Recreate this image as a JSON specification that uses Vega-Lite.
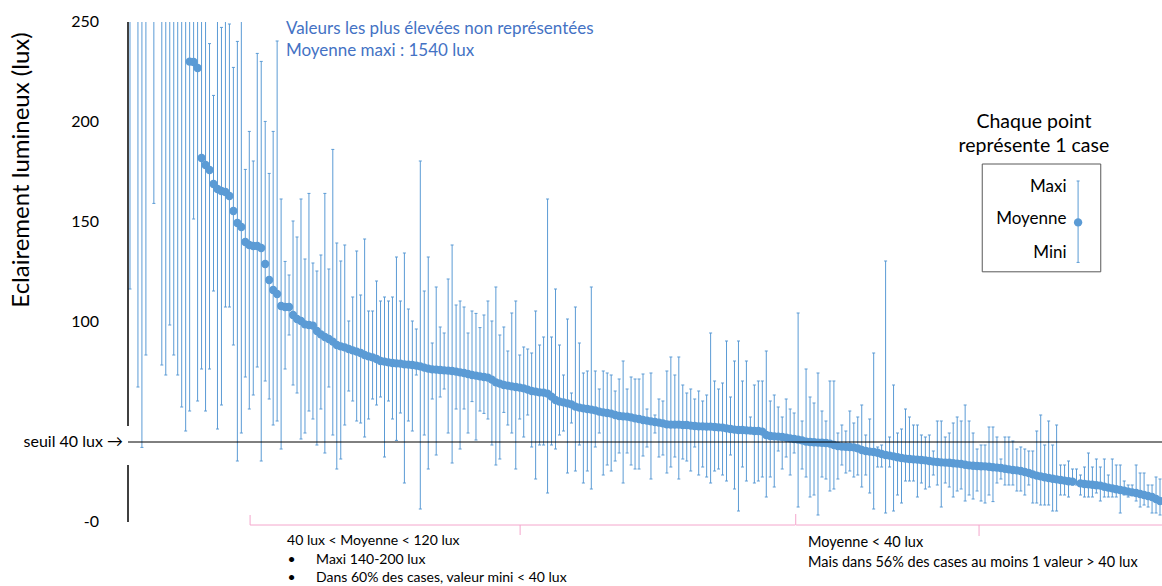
{
  "$schema": "https://vega.github.io/schema/vega-lite/v6.json",
  "width": 1034,
  "height": 500,
  "autosize": "none",
  "padding": {"left": 128, "top": 22, "right": 0, "bottom": 64},
  "background": "white",
  "config": {"view": {"stroke": null}, "font": "Lato"},
  "datasets": {
    "graduations": [
      {"lux": 250, "etiquette": "250"},
      {"lux": 200, "etiquette": "200"},
      {"lux": 150, "etiquette": "150"},
      {"lux": 100, "etiquette": "100"},
      {"lux": 0, "etiquette": "-0"}
    ],
    "cases": [
      {"rang":0,"moyenne":1540,"mini":116.5,"maxi":4000},
      {"rang":1,"moyenne":1100,"mini":300,"maxi":3000},
      {"rang":2,"moyenne":800,"mini":67.5,"maxi":2500},
      {"rang":3,"moyenne":600,"mini":37.3,"maxi":2000},
      {"rang":4,"moyenne":500,"mini":83.5,"maxi":1500},
      {"rang":5,"moyenne":450,"mini":280,"maxi":1200},
      {"rang":6,"moyenne":420,"mini":159.3,"maxi":1100},
      {"rang":7,"moyenne":380,"mini":270,"maxi":900},
      {"rang":8,"moyenne":350,"mini":78.5,"maxi":800},
      {"rang":9,"moyenne":330,"mini":73.5,"maxi":750},
      {"rang":10,"moyenne":310,"mini":98.5,"maxi":700},
      {"rang":11,"moyenne":295,"mini":83.5,"maxi":650},
      {"rang":12,"moyenne":280,"mini":73.5,"maxi":600},
      {"rang":13,"moyenne":265,"mini":57.5,"maxi":550},
      {"rang":14,"moyenne":255,"mini":45.5,"maxi":500},
      {"rang":15,"moyenne":230.2,"mini":55.5,"maxi":420},
      {"rang":16,"moyenne":230,"mini":151.5,"maxi":400},
      {"rang":17,"moyenne":227,"mini":60.5,"maxi":380},
      {"rang":18,"moyenne":182,"mini":76.5,"maxi":350},
      {"rang":19,"moyenne":178.5,"mini":55.5,"maxi":330},
      {"rang":20,"moyenne":176,"mini":76.5,"maxi":239.2},
      {"rang":21,"moyenne":169,"mini":115.5,"maxi":213.3},
      {"rang":22,"moyenne":166.5,"mini":46.5,"maxi":300},
      {"rang":23,"moyenne":165.5,"mini":58.5,"maxi":247.3},
      {"rang":24,"moyenne":165,"mini":107.5,"maxi":280},
      {"rang":25,"moyenne":163,"mini":107.5,"maxi":249},
      {"rang":26,"moyenne":155.5,"mini":88.5,"maxi":227.3},
      {"rang":27,"moyenne":149.5,"mini":30.5,"maxi":240.3},
      {"rang":28,"moyenne":147.5,"mini":44.5,"maxi":290},
      {"rang":29,"moyenne":140,"mini":72.5,"maxi":176.3},
      {"rang":30,"moyenne":138.5,"mini":56.5,"maxi":195.3},
      {"rang":31,"moyenne":138,"mini":63.5,"maxi":180.5},
      {"rang":32,"moyenne":138,"mini":77.5,"maxi":234.3},
      {"rang":33,"moyenne":137,"mini":30.5,"maxi":230.3},
      {"rang":34,"moyenne":129,"mini":70.5,"maxi":200.3},
      {"rang":35,"moyenne":121,"mini":61.5,"maxi":174.3},
      {"rang":36,"moyenne":116,"mini":48.5,"maxi":195.3},
      {"rang":37,"moyenne":114,"mini":50.5,"maxi":240.5},
      {"rang":38,"moyenne":108,"mini":36.5,"maxi":161.5},
      {"rang":39,"moyenne":107.5,"mini":76.5,"maxi":130.3},
      {"rang":40,"moyenne":107.5,"mini":93.5,"maxi":123.5},
      {"rang":41,"moyenne":103.5,"mini":68.5,"maxi":150.5},
      {"rang":42,"moyenne":101.5,"mini":64.5,"maxi":142.5},
      {"rang":43,"moyenne":100.5,"mini":41.5,"maxi":161.5},
      {"rang":44,"moyenne":98.8,"mini":44.5,"maxi":131.5},
      {"rang":45,"moyenne":98.5,"mini":55.5,"maxi":164.3},
      {"rang":46,"moyenne":98.2,"mini":51.5,"maxi":129.5},
      {"rang":47,"moyenne":95.5,"mini":38.5,"maxi":125.5},
      {"rang":48,"moyenne":93.8,"mini":56.5,"maxi":133.5},
      {"rang":49,"moyenne":92.5,"mini":34.5,"maxi":164.3},
      {"rang":50,"moyenne":91.5,"mini":67.5,"maxi":126.5},
      {"rang":51,"moyenne":90.2,"mini":43.5,"maxi":186.3},
      {"rang":52,"moyenne":88.5,"mini":26.5,"maxi":139.5},
      {"rang":53,"moyenne":87.8,"mini":31.5,"maxi":130.5},
      {"rang":54,"moyenne":87.3,"mini":48.5,"maxi":138.5},
      {"rang":55,"moyenne":86.5,"mini":65.5,"maxi":100.5},
      {"rang":56,"moyenne":85.8,"mini":60.5,"maxi":112.5},
      {"rang":57,"moyenne":85.2,"mini":50.5,"maxi":135.5},
      {"rang":58,"moyenne":84.5,"mini":49.5,"maxi":113.5},
      {"rang":59,"moyenne":83.5,"mini":42.5,"maxi":141.5},
      {"rang":60,"moyenne":82.8,"mini":51.5,"maxi":105.5},
      {"rang":61,"moyenne":82.3,"mini":61.5,"maxi":105.5},
      {"rang":62,"moyenne":81.5,"mini":58.5,"maxi":120.5},
      {"rang":63,"moyenne":80.5,"mini":62.5,"maxi":110.5},
      {"rang":64,"moyenne":80.2,"mini":32.5,"maxi":112.5},
      {"rang":65,"moyenne":79.8,"mini":60.5,"maxi":110.5},
      {"rang":66,"moyenne":79.5,"mini":51.5,"maxi":112.5},
      {"rang":67,"moyenne":79.3,"mini":40.8,"maxi":132.5},
      {"rang":68,"moyenne":79.2,"mini":54.5,"maxi":110.5},
      {"rang":69,"moyenne":78.8,"mini":19.5,"maxi":134.5},
      {"rang":70,"moyenne":78.7,"mini":50.5,"maxi":106.5},
      {"rang":71,"moyenne":78.5,"mini":45.5,"maxi":100.5},
      {"rang":72,"moyenne":78.2,"mini":73.5,"maxi":96.5},
      {"rang":73,"moyenne":77.8,"mini":6.5,"maxi":180.5},
      {"rang":74,"moyenne":77.2,"mini":43.5,"maxi":115.5},
      {"rang":75,"moyenne":76.7,"mini":26.5,"maxi":132.5},
      {"rang":76,"moyenne":76.3,"mini":61.5,"maxi":89.5},
      {"rang":77,"moyenne":76.2,"mini":33.5,"maxi":117.5},
      {"rang":78,"moyenne":76,"mini":62.5,"maxi":97.5},
      {"rang":79,"moyenne":75.8,"mini":66.5,"maxi":94.5},
      {"rang":80,"moyenne":75.7,"mini":44.5,"maxi":121.5},
      {"rang":81,"moyenne":75.5,"mini":29.5,"maxi":138.5},
      {"rang":82,"moyenne":75.2,"mini":56.5,"maxi":108.5},
      {"rang":83,"moyenne":74.8,"mini":36.5,"maxi":110.5},
      {"rang":84,"moyenne":74.5,"mini":56.5,"maxi":107.5},
      {"rang":85,"moyenne":74,"mini":44.5,"maxi":94.5},
      {"rang":86,"moyenne":73.5,"mini":60.2,"maxi":105.5},
      {"rang":87,"moyenne":73.2,"mini":41,"maxi":104.3},
      {"rang":88,"moyenne":72.8,"mini":55.5,"maxi":97.2},
      {"rang":89,"moyenne":72.5,"mini":54.3,"maxi":103.5},
      {"rang":90,"moyenne":72.2,"mini":51.5,"maxi":110.5},
      {"rang":91,"moyenne":71.2,"mini":38.5,"maxi":100.5},
      {"rang":92,"moyenne":69.8,"mini":28.5,"maxi":117.5},
      {"rang":93,"moyenne":69.2,"mini":31.5,"maxi":93.5},
      {"rang":94,"moyenne":68.5,"mini":54.8,"maxi":97.5},
      {"rang":95,"moyenne":68.2,"mini":48.5,"maxi":85.5},
      {"rang":96,"moyenne":67.8,"mini":44.5,"maxi":104.5},
      {"rang":97,"moyenne":67.5,"mini":26.5,"maxi":110.5},
      {"rang":98,"moyenne":67.2,"mini":51.5,"maxi":83.5},
      {"rang":99,"moyenne":66.8,"mini":42.5,"maxi":87.5},
      {"rang":100,"moyenne":66.2,"mini":53.5,"maxi":86.5},
      {"rang":101,"moyenne":65.5,"mini":37.5,"maxi":84.5},
      {"rang":102,"moyenne":65.2,"mini":21.5,"maxi":105.5},
      {"rang":103,"moyenne":64.8,"mini":38.5,"maxi":88.5},
      {"rang":104,"moyenne":64.7,"mini":38.5,"maxi":92.5},
      {"rang":105,"moyenne":64.2,"mini":14.5,"maxi":161.5},
      {"rang":106,"moyenne":62.7,"mini":38.5,"maxi":92.5},
      {"rang":107,"moyenne":61,"mini":36.5,"maxi":116.5},
      {"rang":108,"moyenne":60.2,"mini":43.5,"maxi":88.5},
      {"rang":109,"moyenne":59.8,"mini":45.5,"maxi":73.5},
      {"rang":110,"moyenne":59.3,"mini":24.5,"maxi":101.5},
      {"rang":111,"moyenne":58.8,"mini":49.5,"maxi":64.5},
      {"rang":112,"moyenne":57.7,"mini":25.5,"maxi":107.5},
      {"rang":113,"moyenne":57.2,"mini":38.5,"maxi":89.5},
      {"rang":114,"moyenne":56.8,"mini":19.5,"maxi":74.5},
      {"rang":115,"moyenne":56.5,"mini":25.5,"maxi":75.5},
      {"rang":116,"moyenne":56.2,"mini":16.5,"maxi":117.5},
      {"rang":117,"moyenne":55.8,"mini":37.5,"maxi":75.5},
      {"rang":118,"moyenne":55.2,"mini":44.5,"maxi":66.5},
      {"rang":119,"moyenne":54.8,"mini":23.5,"maxi":75.5},
      {"rang":120,"moyenne":54.5,"mini":28.5,"maxi":74.5},
      {"rang":121,"moyenne":54.2,"mini":25.5,"maxi":73.5},
      {"rang":122,"moyenne":53.5,"mini":30.5,"maxi":65.5},
      {"rang":123,"moyenne":53,"mini":34.5,"maxi":71.5},
      {"rang":124,"moyenne":52.8,"mini":19.5,"maxi":80.5},
      {"rang":125,"moyenne":52.7,"mini":34.5,"maxi":66.5},
      {"rang":126,"moyenne":52.3,"mini":28.5,"maxi":72.5},
      {"rang":127,"moyenne":51.8,"mini":26.5,"maxi":71.5},
      {"rang":128,"moyenne":51.5,"mini":26.5,"maxi":71.5},
      {"rang":129,"moyenne":51,"mini":33,"maxi":74},
      {"rang":130,"moyenne":50.7,"mini":37.5,"maxi":56.5},
      {"rang":131,"moyenne":50.3,"mini":21.5,"maxi":74.5},
      {"rang":132,"moyenne":50,"mini":44.5,"maxi":53.5},
      {"rang":133,"moyenne":49.7,"mini":32.5,"maxi":61.5},
      {"rang":134,"moyenne":49.3,"mini":33.5,"maxi":60.5},
      {"rang":135,"moyenne":48.8,"mini":24.5,"maxi":75.5},
      {"rang":136,"moyenne":48.7,"mini":27.5,"maxi":82.5},
      {"rang":137,"moyenne":48.7,"mini":32.5,"maxi":73.5},
      {"rang":138,"moyenne":48.7,"mini":21.5,"maxi":82.5},
      {"rang":139,"moyenne":48.5,"mini":31.5,"maxi":68.5},
      {"rang":140,"moyenne":48.5,"mini":30.5,"maxi":64.5},
      {"rang":141,"moyenne":48.2,"mini":25.5,"maxi":66.5},
      {"rang":142,"moyenne":48,"mini":37.5,"maxi":61.5},
      {"rang":143,"moyenne":47.8,"mini":23.5,"maxi":65.5},
      {"rang":144,"moyenne":47.8,"mini":27.5,"maxi":60.5},
      {"rang":145,"moyenne":47.7,"mini":22.5,"maxi":63.5},
      {"rang":146,"moyenne":47.7,"mini":19.5,"maxi":94.5},
      {"rang":147,"moyenne":47.5,"mini":25.5,"maxi":70.5},
      {"rang":148,"moyenne":47.3,"mini":26.5,"maxi":66.5},
      {"rang":149,"moyenne":47.2,"mini":23.5,"maxi":69.5},
      {"rang":150,"moyenne":46.8,"mini":20.5,"maxi":90.5},
      {"rang":151,"moyenne":46.5,"mini":33.5,"maxi":62.5},
      {"rang":152,"moyenne":46.2,"mini":16.5,"maxi":80.5},
      {"rang":153,"moyenne":46,"mini":5.5,"maxi":90.5},
      {"rang":154,"moyenne":46,"mini":27.5,"maxi":70.5},
      {"rang":155,"moyenne":45.8,"mini":20.5,"maxi":80.5},
      {"rang":156,"moyenne":45.7,"mini":44.5,"maxi":52.5},
      {"rang":157,"moyenne":45.5,"mini":19.5,"maxi":68.5},
      {"rang":158,"moyenne":45.5,"mini":20.5,"maxi":70.5},
      {"rang":159,"moyenne":45.2,"mini":22.5,"maxi":70.5},
      {"rang":160,"moyenne":43.5,"mini":12.5,"maxi":85.5},
      {"rang":161,"moyenne":43,"mini":22.5,"maxi":60.5},
      {"rang":162,"moyenne":42.8,"mini":17.5,"maxi":63.5},
      {"rang":163,"moyenne":42.7,"mini":35.5,"maxi":57.5},
      {"rang":164,"moyenne":42.5,"mini":26.5,"maxi":52.5},
      {"rang":165,"moyenne":42.2,"mini":32.5,"maxi":61.5},
      {"rang":166,"moyenne":41.8,"mini":23.5,"maxi":56.5},
      {"rang":167,"moyenne":41.5,"mini":34.5,"maxi":54.5},
      {"rang":168,"moyenne":41.2,"mini":7.5,"maxi":104.5},
      {"rang":169,"moyenne":40.8,"mini":26.5,"maxi":50.5},
      {"rang":170,"moyenne":40.2,"mini":22.5,"maxi":76.5},
      {"rang":171,"moyenne":40,"mini":12.5,"maxi":62.5},
      {"rang":172,"moyenne":39.9,"mini":13.5,"maxi":59.5},
      {"rang":173,"moyenne":39.7,"mini":3.5,"maxi":74.5},
      {"rang":174,"moyenne":39.6,"mini":22.5,"maxi":55.5},
      {"rang":175,"moyenne":39.5,"mini":21.5,"maxi":50.5},
      {"rang":176,"moyenne":39.2,"mini":15.5,"maxi":70.5},
      {"rang":177,"moyenne":38.5,"mini":16.5,"maxi":70.5},
      {"rang":178,"moyenne":38,"mini":21.5,"maxi":44.5},
      {"rang":179,"moyenne":37.7,"mini":28.5,"maxi":48.5},
      {"rang":180,"moyenne":37.6,"mini":24.5,"maxi":45.5},
      {"rang":181,"moyenne":37.5,"mini":25.5,"maxi":55.5},
      {"rang":182,"moyenne":37.3,"mini":22.5,"maxi":49.5},
      {"rang":183,"moyenne":36.8,"mini":23.5,"maxi":52.5},
      {"rang":184,"moyenne":36,"mini":17.5,"maxi":58.5},
      {"rang":185,"moyenne":35.5,"mini":23.5,"maxi":43.5},
      {"rang":186,"moyenne":35.2,"mini":14.5,"maxi":51.5},
      {"rang":187,"moyenne":35,"mini":6.5,"maxi":84.5},
      {"rang":188,"moyenne":34.6,"mini":27.5,"maxi":37.5},
      {"rang":189,"moyenne":34,"mini":27.5,"maxi":38.5},
      {"rang":190,"moyenne":33.5,"mini":4.5,"maxi":130.5},
      {"rang":191,"moyenne":33.2,"mini":27.5,"maxi":42.5},
      {"rang":192,"moyenne":32.8,"mini":5.5,"maxi":68.5},
      {"rang":193,"moyenne":32.4,"mini":13.5,"maxi":44.5},
      {"rang":194,"moyenne":32,"mini":9.5,"maxi":46.5},
      {"rang":195,"moyenne":31.7,"mini":20.5,"maxi":56.5},
      {"rang":196,"moyenne":31.5,"mini":20.5,"maxi":52.5},
      {"rang":197,"moyenne":31.3,"mini":20.5,"maxi":48.5},
      {"rang":198,"moyenne":31.2,"mini":12.5,"maxi":48.5},
      {"rang":199,"moyenne":31,"mini":19.5,"maxi":43.5},
      {"rang":200,"moyenne":30.8,"mini":16.5,"maxi":42.5},
      {"rang":201,"moyenne":30.5,"mini":17.5,"maxi":43.5},
      {"rang":202,"moyenne":30.2,"mini":23.5,"maxi":35.5},
      {"rang":203,"moyenne":30,"mini":18.5,"maxi":50.5},
      {"rang":204,"moyenne":29.8,"mini":7.5,"maxi":50.5},
      {"rang":205,"moyenne":29.7,"mini":19.5,"maxi":42.5},
      {"rang":206,"moyenne":29.6,"mini":17.5,"maxi":44.5},
      {"rang":207,"moyenne":29.4,"mini":12.5,"maxi":49.5},
      {"rang":208,"moyenne":29.2,"mini":15.5,"maxi":52.5},
      {"rang":209,"moyenne":29,"mini":16.5,"maxi":50.5},
      {"rang":210,"moyenne":28.6,"mini":10.5,"maxi":58.5},
      {"rang":211,"moyenne":28.3,"mini":13.5,"maxi":50.5},
      {"rang":212,"moyenne":28.1,"mini":11.5,"maxi":44.5},
      {"rang":213,"moyenne":28,"mini":15.5,"maxi":36.5},
      {"rang":214,"moyenne":27.9,"mini":10.5,"maxi":38.5},
      {"rang":215,"moyenne":27.8,"mini":9.5,"maxi":38.5},
      {"rang":216,"moyenne":27.6,"mini":13.5,"maxi":47.5},
      {"rang":217,"moyenne":27.4,"mini":10.2,"maxi":47.5},
      {"rang":218,"moyenne":27.2,"mini":19.5,"maxi":42.5},
      {"rang":219,"moyenne":27,"mini":21.5,"maxi":31.5},
      {"rang":220,"moyenne":26.6,"mini":18.5,"maxi":42.5},
      {"rang":221,"moyenne":26.3,"mini":18.5,"maxi":42.5},
      {"rang":222,"moyenne":26,"mini":18.5,"maxi":40.5},
      {"rang":223,"moyenne":25.8,"mini":15.5,"maxi":36.5},
      {"rang":224,"moyenne":25.5,"mini":15.5,"maxi":37.5},
      {"rang":225,"moyenne":25,"mini":13.5,"maxi":36.5},
      {"rang":226,"moyenne":24.5,"mini":18.5,"maxi":35.5},
      {"rang":227,"moyenne":23.8,"mini":9.5,"maxi":35.5},
      {"rang":228,"moyenne":23.2,"mini":9.5,"maxi":45.5},
      {"rang":229,"moyenne":22.8,"mini":8.5,"maxi":53.5},
      {"rang":230,"moyenne":22.4,"mini":8.5,"maxi":38.5},
      {"rang":231,"moyenne":22,"mini":8.5,"maxi":50.5},
      {"rang":232,"moyenne":21.6,"mini":5.5,"maxi":38.5},
      {"rang":233,"moyenne":21.3,"mini":5.5,"maxi":48.5},
      {"rang":234,"moyenne":21,"mini":13.5,"maxi":28.5},
      {"rang":235,"moyenne":20.7,"mini":13.5,"maxi":28.5},
      {"rang":236,"moyenne":20.4,"mini":12.5,"maxi":30.5},
      {"rang":237,"moyenne":20.2,"mini":18.5,"maxi":26.5},
      {"rang":238,"moyenne":null,"mini":18.5,"maxi":26.5},
      {"rang":239,"moyenne":19.3,"mini":13.5,"maxi":23.5},
      {"rang":240,"moyenne":19,"mini":12.5,"maxi":27.5},
      {"rang":241,"moyenne":18.8,"mini":12.5,"maxi":34.5},
      {"rang":242,"moyenne":18.6,"mini":12.5,"maxi":27.5},
      {"rang":243,"moyenne":18.4,"mini":14.5,"maxi":31.5},
      {"rang":244,"moyenne":18.2,"mini":10.5,"maxi":27.5},
      {"rang":245,"moyenne":17.6,"mini":12.5,"maxi":31.5},
      {"rang":246,"moyenne":17.2,"mini":12.5,"maxi":23.5},
      {"rang":247,"moyenne":16.8,"mini":12.5,"maxi":31.5},
      {"rang":248,"moyenne":16.4,"mini":12.5,"maxi":28.5},
      {"rang":249,"moyenne":16,"mini":4.5,"maxi":28.5},
      {"rang":250,"moyenne":15.6,"mini":13.5,"maxi":20.5},
      {"rang":251,"moyenne":15.2,"mini":12.5,"maxi":18.5},
      {"rang":252,"moyenne":14.8,"mini":13.5,"maxi":18.5},
      {"rang":253,"moyenne":14.5,"mini":10.5,"maxi":28.5},
      {"rang":254,"moyenne":14,"mini":7.5,"maxi":24.5},
      {"rang":255,"moyenne":13.5,"mini":8.5,"maxi":24.5},
      {"rang":256,"moyenne":13,"mini":7.5,"maxi":18.5},
      {"rang":257,"moyenne":12.5,"mini":4.5,"maxi":18.5},
      {"rang":258,"moyenne":11.5,"mini":4.5,"maxi":22.5},
      {"rang":259,"moyenne":10.5,"mini":3.5,"maxi":21.5}
    ]
  },
  "layer": [
    {
      "data": {"name": "cases"},
      "mark": {"type": "rule", "color": "#5B9BD5", "strokeWidth": 1, "clip": true},
      "encoding": {
        "x": {"field": "rang", "type": "quantitative", "scale": {"domain": [-0.5, 259.5], "nice": false, "zero": false}, "axis": null},
        "y": {"field": "mini", "type": "quantitative", "scale": {"domain": [0, 250], "nice": false, "zero": false}, "axis": null},
        "y2": {"field": "maxi"}
      }
    },
    {
      "data": {"name": "cases"},
      "mark": {"type": "tick", "orient": "horizontal", "size": 3, "thickness": 1, "color": "#5B9BD5", "opacity": 1, "clip": true},
      "encoding": {
        "x": {"field": "rang", "type": "quantitative", "axis": null},
        "y": {"field": "maxi", "type": "quantitative", "axis": null}
      }
    },
    {
      "data": {"name": "cases"},
      "mark": {"type": "tick", "orient": "horizontal", "size": 3, "thickness": 1, "color": "#5B9BD5", "opacity": 1, "clip": true},
      "encoding": {
        "x": {"field": "rang", "type": "quantitative", "axis": null},
        "y": {"field": "mini", "type": "quantitative", "axis": null}
      }
    },
    {
      "data": {"name": "cases"},
      "mark": {"type": "circle", "size": 70, "color": "#5B9BD5", "opacity": 1, "clip": true},
      "encoding": {
        "x": {"field": "rang", "type": "quantitative", "axis": null},
        "y": {"field": "moyenne", "type": "quantitative", "axis": null}
      }
    },
    {
      "data": {"name": "graduations"},
      "mark": {"type": "text", "align": "right", "baseline": "middle", "font": "Lato", "fontSize": 16, "color": "black", "dx": -29},
      "encoding": {
        "x": {"datum": -0.5, "type": "quantitative", "axis": null},
        "y": {"field": "lux", "type": "quantitative", "axis": null},
        "text": {"field": "etiquette"}
      }
    },
    {
      "data": {"values": [{}]},
      "mark": {"type": "text", "align": "center", "baseline": "middle", "angle": 270, "font": "Lato", "fontSize": 24, "color": "black", "dy": -106},
      "encoding": {
        "x": {"datum": -0.5, "type": "quantitative", "axis": null},
        "y": {"datum": 176, "type": "quantitative", "axis": null},
        "text": {"value": "Eclairement lumineux (lux)"}
      }
    },
    {
      "data": {"values": [{}]},
      "mark": {"type": "rule", "color": "black", "strokeWidth": 1},
      "encoding": {"y": {"datum": 40, "type": "quantitative", "axis": null}}
    },
    {
      "data": {"values": [{}]},
      "mark": {"type": "text", "align": "right", "baseline": "middle", "font": "Lato", "fontSize": 16, "color": "black", "dx": -5},
      "encoding": {
        "x": {"datum": -0.5, "type": "quantitative", "axis": null},
        "y": {"datum": 40, "type": "quantitative", "axis": null},
        "text": {"value": "seuil 40 lux →"}
      }
    },
    {
      "data": {"values": [{}]},
      "mark": {"type": "rule", "color": "black", "strokeWidth": 1.5},
      "encoding": {
        "x": {"datum": -0.5, "type": "quantitative", "axis": null},
        "y": {"datum": 48, "type": "quantitative", "axis": null},
        "y2": {"datum": 250}
      }
    },
    {
      "data": {"values": [{}]},
      "mark": {"type": "rule", "color": "black", "strokeWidth": 1.5},
      "encoding": {
        "x": {"datum": -0.5, "type": "quantitative", "axis": null},
        "y": {"datum": 0, "type": "quantitative", "axis": null},
        "y2": {"datum": 28.5}
      }
    },
    {
      "data": {"values": [{}]},
      "mark": {"type": "text", "align": "left", "baseline": "middle", "font": "Lato", "fontSize": 17, "color": "#4472C4"},
      "encoding": {
        "x": {"datum": 39.2, "type": "quantitative", "axis": null},
        "y": {"datum": 246.4, "type": "quantitative", "axis": null},
        "text": {"value": "Valeurs les plus élevées non représentées"}
      }
    },
    {
      "data": {"values": [{}]},
      "mark": {"type": "text", "align": "left", "baseline": "middle", "font": "Lato", "fontSize": 17, "color": "#4472C4"},
      "encoding": {
        "x": {"datum": 39.2, "type": "quantitative", "axis": null},
        "y": {"datum": 235.7, "type": "quantitative", "axis": null},
        "text": {"value": "Moyenne maxi : 1540 lux"}
      }
    },
    {
      "data": {"values": [{}]},
      "mark": {"type": "rect", "fill": null, "fillOpacity": 0, "stroke": "#595959", "strokeWidth": 1},
      "encoding": {
        "x": {"datum": 214.3, "type": "quantitative", "axis": null},
        "x2": {"datum": 244.1},
        "y": {"datum": 179, "type": "quantitative", "axis": null},
        "y2": {"datum": 125.1}
      }
    },
    {
      "data": {"values": [{}]},
      "mark": {"type": "text", "align": "center", "baseline": "middle", "font": "Lato", "fontSize": 19.5, "color": "black"},
      "encoding": {
        "x": {"datum": 227.3, "type": "quantitative", "axis": null},
        "y": {"datum": 200.1, "type": "quantitative", "axis": null},
        "text": {"value": "Chaque point"}
      }
    },
    {
      "data": {"values": [{}]},
      "mark": {"type": "text", "align": "center", "baseline": "middle", "font": "Lato", "fontSize": 19.5, "color": "black"},
      "encoding": {
        "x": {"datum": 227.3, "type": "quantitative", "axis": null},
        "y": {"datum": 188, "type": "quantitative", "axis": null},
        "text": {"value": "représente 1 case"}
      }
    },
    {
      "data": {"values": [{}]},
      "mark": {"type": "text", "align": "right", "baseline": "middle", "font": "Lato", "fontSize": 17, "color": "black"},
      "encoding": {
        "x": {"datum": 235.5, "type": "quantitative", "axis": null},
        "y": {"datum": 167.3, "type": "quantitative", "axis": null},
        "text": {"value": "Maxi"}
      }
    },
    {
      "data": {"values": [{}]},
      "mark": {"type": "text", "align": "right", "baseline": "middle", "font": "Lato", "fontSize": 17, "color": "black"},
      "encoding": {
        "x": {"datum": 235.5, "type": "quantitative", "axis": null},
        "y": {"datum": 151.3, "type": "quantitative", "axis": null},
        "text": {"value": "Moyenne"}
      }
    },
    {
      "data": {"values": [{}]},
      "mark": {"type": "text", "align": "right", "baseline": "middle", "font": "Lato", "fontSize": 17, "color": "black"},
      "encoding": {
        "x": {"datum": 235.5, "type": "quantitative", "axis": null},
        "y": {"datum": 134.6, "type": "quantitative", "axis": null},
        "text": {"value": "Mini"}
      }
    },
    {
      "data": {"values": [{}]},
      "mark": {"type": "rule", "color": "#5B9BD5", "strokeWidth": 1},
      "encoding": {
        "x": {"datum": 238.4, "type": "quantitative", "axis": null},
        "y": {"datum": 129.8, "type": "quantitative", "axis": null},
        "y2": {"datum": 170.5}
      }
    },
    {
      "data": {"values": [{}]},
      "mark": {"type": "tick", "orient": "horizontal", "size": 3, "thickness": 1, "color": "#5B9BD5", "opacity": 1},
      "encoding": {
        "x": {"datum": 238.4, "type": "quantitative", "axis": null},
        "y": {"datum": 170.5, "type": "quantitative", "axis": null}
      }
    },
    {
      "data": {"values": [{}]},
      "mark": {"type": "tick", "orient": "horizontal", "size": 3, "thickness": 1, "color": "#5B9BD5", "opacity": 1},
      "encoding": {
        "x": {"datum": 238.4, "type": "quantitative", "axis": null},
        "y": {"datum": 129.8, "type": "quantitative", "axis": null}
      }
    },
    {
      "data": {"values": [{}]},
      "mark": {"type": "circle", "size": 70, "color": "#5B9BD5", "opacity": 1},
      "encoding": {
        "x": {"datum": 238.4, "type": "quantitative", "axis": null},
        "y": {"datum": 149.8, "type": "quantitative", "axis": null}
      }
    },
    {
      "data": {"values": [{}]},
      "mark": {"type": "rule", "color": "#F4A6CC", "strokeWidth": 1},
      "encoding": {
        "x": {"datum": 30.2, "type": "quantitative", "axis": null},
        "x2": {"datum": 167.3},
        "y": {"datum": -1.5, "type": "quantitative", "axis": null}
      }
    },
    {
      "data": {"values": [{}]},
      "mark": {"type": "rule", "color": "#F4A6CC", "strokeWidth": 1},
      "encoding": {
        "x": {"datum": 30.2, "type": "quantitative", "axis": null},
        "y": {"datum": -1.5, "type": "quantitative", "axis": null},
        "y2": {"datum": 3.5}
      }
    },
    {
      "data": {"values": [{}]},
      "mark": {"type": "rule", "color": "#F4A6CC", "strokeWidth": 1},
      "encoding": {
        "x": {"datum": 98.1, "type": "quantitative", "axis": null},
        "y": {"datum": -1.5, "type": "quantitative", "axis": null},
        "y2": {"datum": -6.5}
      }
    },
    {
      "data": {"values": [{}]},
      "mark": {"type": "rule", "color": "#F4A6CC", "strokeWidth": 1},
      "encoding": {
        "x": {"datum": 167.4, "type": "quantitative", "axis": null},
        "y": {"datum": -1.5, "type": "quantitative", "axis": null},
        "y2": {"datum": 4}
      }
    },
    {
      "data": {"values": [{}]},
      "mark": {"type": "rule", "color": "#F4A6CC", "strokeWidth": 1},
      "encoding": {
        "x": {"datum": 167.5, "type": "quantitative", "axis": null},
        "x2": {"datum": 259.5},
        "y": {"datum": -1.5, "type": "quantitative", "axis": null}
      }
    },
    {
      "data": {"values": [{}]},
      "mark": {"type": "rule", "color": "#F4A6CC", "strokeWidth": 1},
      "encoding": {
        "x": {"datum": 213.5, "type": "quantitative", "axis": null},
        "y": {"datum": -1.5, "type": "quantitative", "axis": null},
        "y2": {"datum": -7}
      }
    },
    {
      "data": {"values": [{}]},
      "mark": {"type": "text", "align": "left", "baseline": "middle", "font": "Lato", "fontSize": 14, "color": "black"},
      "encoding": {
        "x": {"datum": 39.5, "type": "quantitative", "axis": null},
        "y": {"datum": -9.5, "type": "quantitative", "axis": null},
        "text": {"value": "40 lux < Moyenne < 120 lux"}
      }
    },
    {
      "data": {"values": [{}]},
      "mark": {"type": "text", "align": "left", "baseline": "middle", "font": "Lato", "fontSize": 14, "color": "black"},
      "encoding": {
        "x": {"datum": 39.6, "type": "quantitative", "axis": null},
        "y": {"datum": -19, "type": "quantitative", "axis": null},
        "text": {"value": "•"}
      }
    },
    {
      "data": {"values": [{}]},
      "mark": {"type": "text", "align": "left", "baseline": "middle", "font": "Lato", "fontSize": 14, "color": "black"},
      "encoding": {
        "x": {"datum": 46.8, "type": "quantitative", "axis": null},
        "y": {"datum": -19, "type": "quantitative", "axis": null},
        "text": {"value": "Maxi 140-200 lux"}
      }
    },
    {
      "data": {"values": [{}]},
      "mark": {"type": "text", "align": "left", "baseline": "middle", "font": "Lato", "fontSize": 14, "color": "black"},
      "encoding": {
        "x": {"datum": 39.6, "type": "quantitative", "axis": null},
        "y": {"datum": -28, "type": "quantitative", "axis": null},
        "text": {"value": "•"}
      }
    },
    {
      "data": {"values": [{}]},
      "mark": {"type": "text", "align": "left", "baseline": "middle", "font": "Lato", "fontSize": 14, "color": "black"},
      "encoding": {
        "x": {"datum": 46.8, "type": "quantitative", "axis": null},
        "y": {"datum": -28, "type": "quantitative", "axis": null},
        "text": {"value": "Dans 60% des cases, valeur mini < 40 lux"}
      }
    },
    {
      "data": {"values": [{}]},
      "mark": {"type": "text", "align": "left", "baseline": "middle", "font": "Lato", "fontSize": 14.5, "color": "black"},
      "encoding": {
        "x": {"datum": 170.5, "type": "quantitative", "axis": null},
        "y": {"datum": -10.7, "type": "quantitative", "axis": null},
        "text": {"value": "Moyenne < 40 lux"}
      }
    },
    {
      "data": {"values": [{}]},
      "mark": {"type": "text", "align": "left", "baseline": "middle", "font": "Lato", "fontSize": 14.5, "color": "black"},
      "encoding": {
        "x": {"datum": 170.5, "type": "quantitative", "axis": null},
        "y": {"datum": -20.7, "type": "quantitative", "axis": null},
        "text": {"value": "Mais dans 56% des cases au moins 1 valeur > 40 lux"}
      }
    }
  ]
}
